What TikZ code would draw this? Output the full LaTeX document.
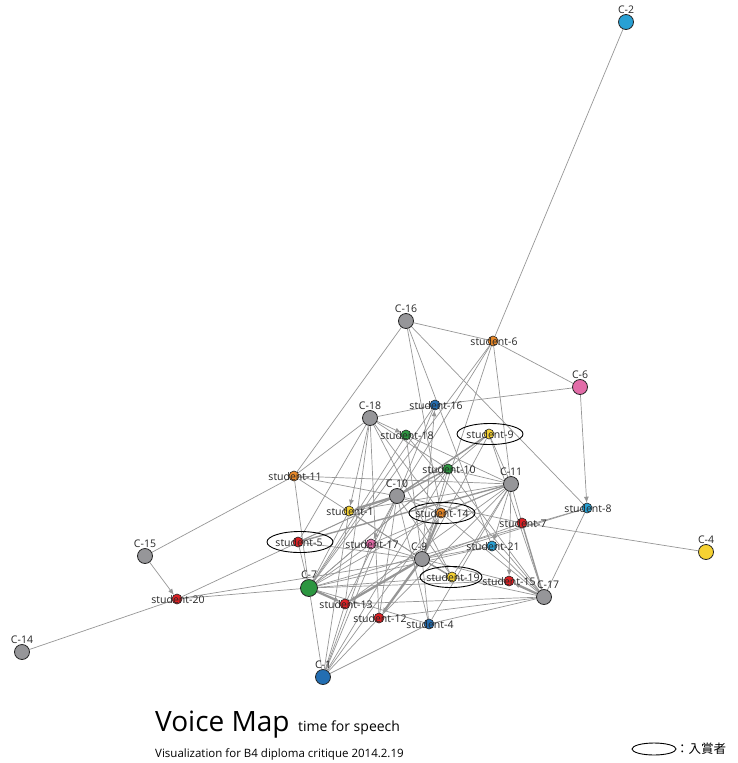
\documentclass[tikz,border=0pt]{standalone}
\usepackage{fontspec}
\setmainfont{Open Sans}
\newfontfamily\jpfont{Noto Sans CJK JP}
\usetikzlibrary{backgrounds,arrows.meta,shapes.geometric}

\definecolor{ngray}{RGB}{150,150,153}
\definecolor{nblue}{RGB}{35,110,178}
\definecolor{nsky}{RGB}{40,160,212}
\definecolor{norange}{RGB}{232,136,40}
\definecolor{npink}{RGB}{226,108,168}
\definecolor{nred}{RGB}{222,32,36}
\definecolor{ngreen}{RGB}{44,150,64}
\definecolor{nyellow}{RGB}{246,210,50}
\definecolor{edgegray}{RGB}{150,150,150}

\begin{document}
\begin{tikzpicture}[x=1pt,y=-1pt,
  cnode/.style={circle,draw=black!85,line width=0.8pt,minimum size=15pt,inner sep=0pt,fill=ngray},
  snode/.style={circle,draw=black!85,line width=0.6pt,minimum size=10pt,inner sep=0pt},
  clabel/.style={font=\fontsize{10.5}{11}\selectfont,text=black!85,inner sep=0.5pt,label distance=0pt},
  slabel/.style={font=\fontsize{10.5}{11}\selectfont,text=black!85,inner sep=0pt,xshift=1pt,yshift=-1pt},
  winner/.style={draw=black,ellipse,line width=0.9pt,minimum width=66pt,minimum height=21pt,inner sep=0pt},
  link/.style={draw=edgegray,line width=0.7pt},
  mid/.style={draw=edgegray,line width=1.4pt},
  heavy/.style={draw=edgegray,line width=2.3pt},
  tip/.style={-{Latex[length=6pt,width=5pt]}},
]
\useasboundingbox (0,0) rectangle (737,763);

% works under critique
\node[cnode,fill=nsky,label={[clabel]above:C-2}] (C2) at (626,22) {};
\node[cnode,label={[clabel]above:C-16}] (C16) at (406,321) {};
\node[cnode,fill=npink,label={[clabel]above:C-6}] (C6) at (580,387) {};
\node[cnode,label={[clabel]above:C-18}] (C18) at (370,418) {};
\node[cnode,label={[clabel]above:C-11}] (C11) at (511,484) {};
\node[cnode,label={[clabel]above:C-10}] (C10) at (397,496) {};
\node[cnode,label={[clabel,xshift=-3pt]above:C-9}] (C9) at (422,559) {};
\node[cnode,fill=nyellow,label={[clabel]above:C-4}] (C4) at (706,552) {};
\node[cnode,label={[clabel,xshift=4pt]above:C-17}] (C17) at (544,597) {};
\node[cnode,fill=ngreen,minimum size=17pt,label={[clabel]above:C-7}] (C7) at (309,588) {};
\node[cnode,label={[clabel]above:C-15}] (C15) at (145,556) {};
\node[cnode,label={[clabel]above:C-14}] (C14) at (22,652) {};
\node[cnode,fill=nblue,label={[clabel]above:C-1}] (C1) at (323,677) {};

% students
\node[snode,fill=norange,label={[slabel]center:student-6}] (s6) at (493,341) {};
\node[snode,fill=nblue,label={[slabel]center:student-16}] (s16) at (435,405) {};
\node[snode,fill=ngreen,label={[slabel]center:student-18}] (s18) at (406,435) {};
\node[snode,fill=nyellow,label={[slabel]center:student-9}] (s9) at (489,434) {};
\node[snode,fill=ngreen,label={[slabel]center:student-10}] (s10) at (448,469) {};
\node[snode,fill=norange,label={[slabel]center:student-11}] (s11) at (294,476) {};
\node[snode,fill=nyellow,label={[slabel]center:student-1}] (s1) at (349,511) {};
\node[snode,fill=norange,label={[slabel]center:student-14}] (s14) at (441,513) {};
\node[snode,fill=nsky,label={[slabel]center:student-8}] (s8) at (587,508) {};
\node[snode,fill=nred,label={[slabel]center:student-7}] (s7) at (522,523) {};
\node[snode,fill=nred,label={[slabel]center:student-5}] (s5) at (298,542) {};
\node[snode,fill=npink,label={[slabel]center:student-17}] (s17) at (371,544) {};
\node[snode,fill=nsky,label={[slabel]center:student-21}] (s21) at (492,546) {};
\node[snode,fill=nyellow,label={[slabel]center:student-19}] (s19) at (452,577) {};
\node[snode,fill=nred,label={[slabel,xshift=-1pt]center:student-15}] (s15) at (509,581) {};
\node[snode,fill=nred,label={[slabel]center:student-20}] (s20) at (177,599) {};
\node[snode,fill=nred,label={[slabel]center:student-13}] (s13) at (345,604) {};
\node[snode,fill=nred,label={[slabel]center:student-12}] (s12) at (379,618) {};
\node[snode,fill=nblue,label={[slabel]center:student-4}] (s4) at (429,624) {};

% prize winners
\node[winner] (w9) at (490,434) {};
\node[winner] (w14) at (442,513) {};
\node[winner] (w5) at (300,542) {};
\node[winner,minimum width=62pt] (w19) at (451,577) {};

\begin{pgfonlayer}{background}
  % thin connections
  \foreach \a/\b in {C2/s6,C16/s6,C16/s11,C16/s8,C16/s14,C16/s21,
      C6/s6,C6/s16,C4/s7,C14/s20,C15/s11,
      C18/s16,C18/s11,C18/s5,C18/s13,C18/s12,C18/s14,C18/s10,C18/s19,
      C10/s11,C10/s14,C10/s5,C10/s20,C10/s6,C10/s7,C10/s9,C10/s4,C10/s13,C10/s19,C10/s12,
      C9/s19,C9/s11,C9/s5,C9/s20,C9/s1,C9/s17,C9/s18,C9/s21,C9/s4,C9/s6,C9/s8,C9/s9,C9/s7,C9/s10,C9/s15,
      C11/s11,C11/s6,C11/s9,C11/s10,C11/s14,C11/s7,C11/s17,C11/s1,C11/s4,C11/s13,C11/s12,C11/s19,C11/s18,
      C7/s4,C7/s11,C7/s5,C7/s20,C7/s6,C7/s1,C7/s17,C7/s14,C7/s18,C7/s10,C7/s9,C7/s19,C7/s16,C7/s15,C7/s21,C7/s8,
      C17/s19,C17/s21,C17/s4,C17/s8,C17/s13,C17/s12,C17/s9,C17/s10,C17/s18,C17/s14,
      C1/s13,C1/s12,C1/s4,C1/s1,C1/s17,C1/s14,C1/s16,C1/s10,C1/C7}
    \draw[link] (\a) -- (\b);
  % thin connections with arrow heads
  \foreach \a/\b in {C6/s8,C15/s20,C18/s18,C18/s1,C10/s17,C11/s21,C11/s15,C9/s16}
    \draw[link,tip] (\a) -- (\b);
  % heavier connections
  \foreach \a/\b in {C10/s10,C17/s7,C11/s5,C9/s19,C10/s9}
    \draw[mid] (\a) -- (\b);
  \foreach \a/\b in {C10/s1,C9/s13,C9/s12,C9/s14,C7/s13,C17/s15}
    \draw[heavy,tip] (\a) -- (\b);
\end{pgfonlayer}

% title and legend
\node[anchor=base west,inner sep=0pt,font=\fontsize{28}{30}\selectfont] (title) at (155,731) {Voice Map};
\node[anchor=base west,inner sep=0pt,font=\fontsize{14}{16}\selectfont] (sub) at (298,731) {time for speech};
\node[anchor=base west,inner sep=0pt,font=\fontsize{11.5}{13}\selectfont] (note) at (155,757) {Visualization for B4 diploma critique 2014.2.19};
\node[draw=black,ellipse,line width=0.9pt,minimum width=44pt,minimum height=12pt,inner sep=0pt] (key) at (654,749) {};
\node[anchor=west,inner sep=0pt,font=\jpfont\fontsize{12.5}{14}\selectfont] (keytext) at (676,749) {：入賞者};
\end{tikzpicture}
\end{document}
